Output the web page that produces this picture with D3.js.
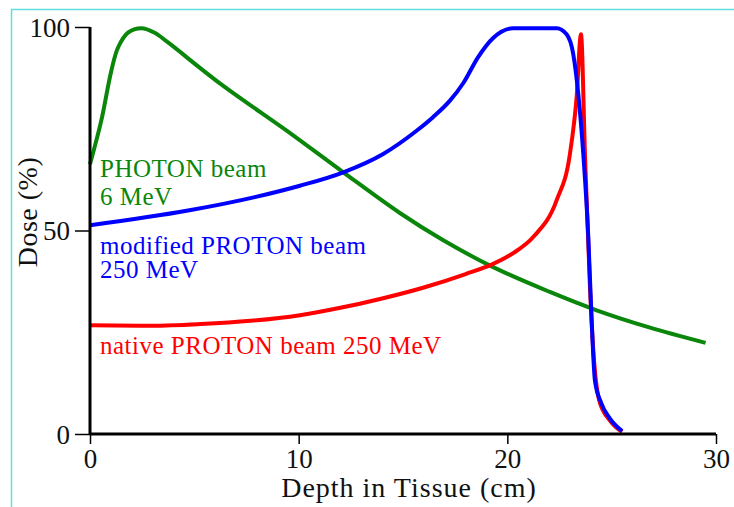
<!DOCTYPE html>
<html>
<head>
<meta charset="utf-8">
<script src="https://cdn.jsdelivr.net/npm/d3@7"></script>
<style>
  body { margin: 0; background: #fff; }
  text { font-family: "Liberation Serif", "DejaVu Serif", serif; }
</style>
</head>
<body>
<script>
//consts
    const width = 734;
    const height = 507;

//data - depth (cm) / dose (%)
    const photonDepth = [0, 0.54, 1.02, 1.34, 1.82, 2.46, 3.1, 3.74, 6.29, 9.49, 12.14, 14.85, 16.93, 19.32, 22.04, 24.28, 26.8, 29.5];
    const photonDose  = [66.3, 77, 89.2, 94.9, 98.6, 99.7, 98.6, 96.2, 85.9, 74.3, 64.3, 54.3, 47.6, 41.0, 34.9, 30.4, 26.2, 22.4];

    const modDepth = [0, 4.7, 7.9, 10.06, 12.14, 14.05, 15.65, 16.45, 17.25, 17.9, 18.6, 19.32, 20.28, 22.36, 22.84, 23.16, 23.4, 23.64, 23.88, 24.04, 24.2, 24.5, 24.9, 25.5];
    const modDose  = [51.3, 54.9, 58.2, 61.0, 64.3, 68.8, 74.5, 77.9, 81.9, 86.3, 92.6, 97.3, 99.7, 99.7, 98.2, 93.3, 83.5, 68.8, 48.4, 27.9, 13, 7.6, 3.9, 0.7];

    const natDepth = [0, 3, 5.3, 7.7, 10.06, 12, 14, 16, 18, 19.32, 20.3, 21.24, 22.36, 23.0, 23.32, 23.53, 23.72, 23.96, 24.12, 24.4, 24.9, 25.5];
    const natDose  = [26.7, 26.6, 27.0, 27.8, 29.2, 31.0, 33.3, 36.0, 39.3, 41.8, 44.5, 48.4, 57.4, 68.8, 82.7, 98.2, 68.8, 36.1, 20.6, 8.3, 3.4, 0.5];

    const xTicks = [0, 10, 20, 30];
    const yTicks = [0, 50, 100];

    const series = [
        {name: "photon", color: "#0a860a", depth: photonDepth, dose: photonDose, curve: d3.curveCatmullRom.alpha(0.5)},
        {name: "native", color: "#ff0000", depth: natDepth, dose: natDose, curve: d3.curveMonotoneX},
        {name: "modified", color: "#0000ff", depth: modDepth, dose: modDose, curve: d3.curveMonotoneX}
    ];

//scales
    const xScale = d3.scaleLinear().domain([0, 30]).range([90, 716]);
    const yScale = d3.scaleLinear().domain([0, 100]).range([434, 27]);

//svg
    const svg = d3.select("body").append("svg")
        .attr("width", width)
        .attr("height", height);

    // frame lines
    svg.append("line").attr("x1", 11).attr("x2", 734).attr("y1", 9.5).attr("y2", 9.5)
        .attr("stroke", "#5fe0e0").attr("stroke-width", 1.5);
    svg.append("line").attr("x1", 11.5).attr("x2", 11.5).attr("y1", 9).attr("y2", 507)
        .attr("stroke", "#5fe0e0").attr("stroke-width", 1.5);

//curves
    svg.selectAll("path.curve")
        .data(series)
        .enter()
        .append("path")
        .attr("class", "curve")
        .attr("d", s => d3.line()
            .x(d => xScale(d[0]))
            .y(d => yScale(d[1]))
            .curve(s.curve)(s.depth.map((x, i) => [x, s.dose[i]])))
        .attr("fill", "none")
        .attr("stroke", s => s.color)
        .attr("stroke-width", 4)
        .attr("stroke-linejoin", "round");

//axes
    const bottomAxis = d3.axisBottom(xScale).tickValues(xTicks).tickSize(10).tickSizeOuter(0);
    const leftAxis = d3.axisLeft(yScale).tickValues(yTicks).tickSize(15).tickSizeOuter(0);

    const gx = svg.append("g")
        .attr("transform", "translate(0,434)")
        .call(bottomAxis);
    gx.select(".domain").attr("stroke-width", 3).attr("d", "M90,0H716");
    gx.selectAll(".tick line").attr("stroke-width", 1.5);
    gx.selectAll(".tick text").attr("font-size", 27).attr("fill", "#111").attr("y", 34).attr("dy", 0);

    const gy = svg.append("g")
        .attr("transform", "translate(90,0)")
        .call(leftAxis);
    gy.select(".domain").attr("stroke-width", 3).attr("d", "M0,434V27");
    gy.selectAll(".tick line").attr("stroke-width", 1.5);
    gy.selectAll(".tick text").attr("font-size", 27).attr("fill", "#111").attr("x", -20).attr("dy", "0.34em");

//axis titles
    svg.append("text")
        .attr("x", 409).attr("y", 497)
        .attr("text-anchor", "middle")
        .attr("font-size", 28)
        .attr("letter-spacing", 1)
        .attr("fill", "#111")
        .text("Depth in Tissue (cm)");

    svg.append("text")
        .attr("transform", "translate(37,212) rotate(-90)")
        .attr("text-anchor", "middle")
        .attr("font-size", 28)
        .attr("letter-spacing", 0.5)
        .attr("fill", "#111")
        .text("Dose (%)");

//series labels
    const labels = [
        {text: "PHOTON beam", y: 177, color: "#0a860a"},
        {text: "6 MeV", y: 205, color: "#0a860a"},
        {text: "modified PROTON beam", y: 254, color: "#0000ff"},
        {text: "250 MeV", y: 278, color: "#0000ff"},
        {text: "native PROTON beam 250 MeV", y: 354, color: "#ff0000"}
    ];

    svg.selectAll("text.lbl")
        .data(labels)
        .enter()
        .append("text")
        .attr("class", "lbl")
        .attr("x", 100)
        .attr("y", d => d.y)
        .attr("font-size", 25)
        .attr("letter-spacing", 0.5)
        .attr("fill", d => d.color)
        .text(d => d.text);
</script>
</body>
</html>
